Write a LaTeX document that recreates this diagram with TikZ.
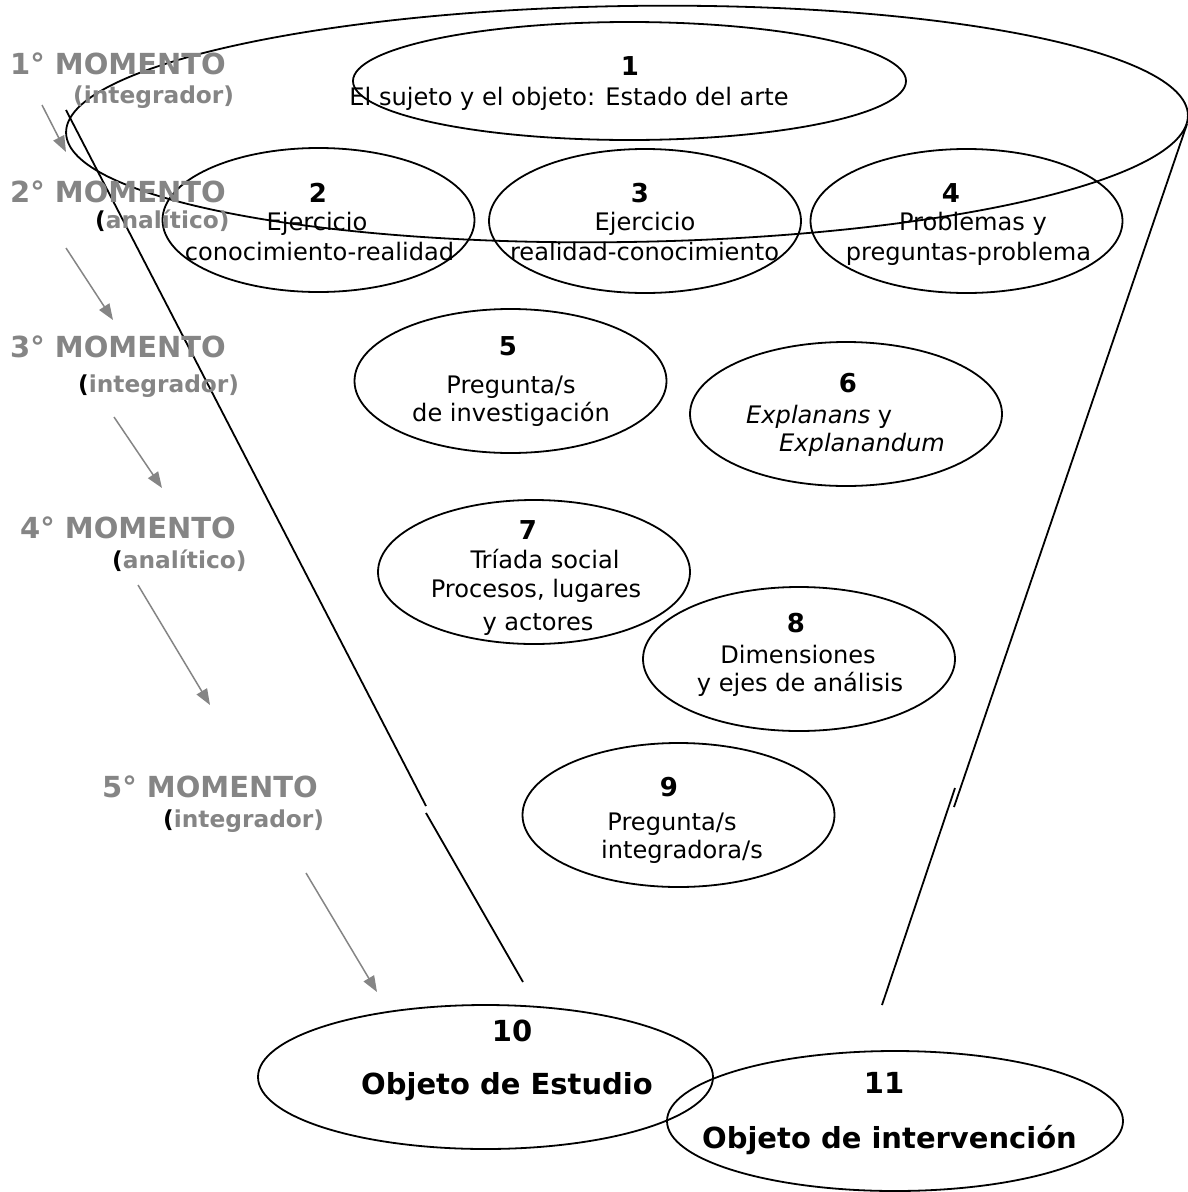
\documentclass[tikz,border=0pt]{standalone}
\usepackage{fontspec}
\setmainfont{DejaVu Sans}
\usetikzlibrary{shapes.geometric,arrows.meta}
\definecolor{momgray}{HTML}{858585}
\tikzset{
  ell/.style={draw=black, line width=1.8pt, ellipse, inner sep=0pt},
  smallell/.style={ell, minimum width=312pt, minimum height=144pt},
  body/.style={anchor=base, inner sep=0pt, font=\fontsize{24.1}{28}\selectfont},
  num/.style={anchor=base, inner sep=0pt, font=\fontsize{26}{30}\selectfont\bfseries},
  bignum/.style={anchor=base, inner sep=0pt, font=\fontsize{29}{34}\selectfont\bfseries},
  mom/.style={anchor=base west, inner sep=0pt, text=momgray, font=\fontsize{29}{34}\selectfont\bfseries},
  par/.style={anchor=base west, inner sep=0pt, text=momgray, font=\fontsize{23.3}{28}\selectfont\bfseries},
  funnelline/.style={draw=black, line width=1.8pt},
  momarrow/.style={draw=momgray, line width=1.5pt, -{Triangle[length=16pt,width=12pt]}}
}
\begin{document}
\begin{tikzpicture}[x=1pt,y=-1pt]
\useasboundingbox (0,0) rectangle (1188,1192);
% big funnel top ellipse
\node[ell, minimum width=1122pt, minimum height=236pt, rotate=0.9] (top) at (627,124) {};
% funnel sides
\coordinate (lt) at (66,110);
\coordinate (lg1) at (426,806);
\coordinate (lg2) at (426,813);
\coordinate (lb) at (523,982);
\coordinate (rt) at (1187,124);
\coordinate (rg1) at (954,807);
\coordinate (rg2) at (955,788);
\coordinate (rb) at (882,1005);
\draw[funnelline] (lt) -- (lg1);
\draw[funnelline] (lg2) -- (lb);
\draw[funnelline] (rt) -- (rg1);
\draw[funnelline] (rg2) -- (rb);
% ellipses
\node[ell, minimum width=553pt, minimum height=118pt] (e1) at (629.5,81) {};
\node[smallell] (e2) at (318.5,220) {};
\node[smallell] (e3) at (645,221) {};
\node[smallell] (e4) at (966.5,221) {};
\node[smallell] (e5) at (510.5,381) {};
\node[smallell] (e6) at (846,414) {};
\node[smallell] (e7) at (534,572) {};
\node[smallell] (e8) at (799,659) {};
\node[smallell] (e9) at (678.5,815) {};
\node[ell, minimum width=455pt, minimum height=144pt] (e10) at (485.5,1077) {};
\node[ell, minimum width=456pt, minimum height=140pt] (e11) at (895,1121) {};
% texts
\node[num] (n1) at (630,75) {1};
\node[body] (t1) at (569,105) {El sujeto y el objeto: Estado del arte};
\node[num] (n2) at (318,202) {2};
\node[body] (t2a) at (317,230) {Ejercicio};
\node[body] (t2b) at (319.5,260) {conocimiento-realidad};
\node[num] (n3) at (640,202) {3};
\node[body] (t3a) at (645,230) {Ejercicio};
\node[body] (t3b) at (644.5,260) {realidad-conocimiento};
\node[num] (n4) at (951,202) {4};
\node[body] (t4a) at (973,230) {Problemas y};
\node[body] (t4b) at (968.5,260) {preguntas-problema};
\node[num] (n5) at (508,355) {5};
\node[body] (t5a) at (511,393) {Pregunta/s};
\node[body] (t5b) at (511,421) {de investigación};
\node[num] (n6) at (848,392) {6};
\node[body, anchor=base west] (t6a) at (746,423) {\itshape Explanans\upshape{} y};
\node[body, anchor=base west] (t6b) at (779,451) {\itshape Explanandum};
\node[num] (n7) at (528,539) {7};
\node[body] (t7a) at (545,568) {Tríada social};
\node[body] (t7b) at (536,597) {Procesos, lugares};
\node[body] (t7c) at (538,630) {y actores};
\node[num] (n8) at (796,632) {8};
\node[body] (t8a) at (798,663) {Dimensiones};
\node[body] (t8b) at (800,691) {y ejes de análisis};
\node[num] (n9) at (669,796) {9};
\node[body] (t9a) at (672,830) {Pregunta/s};
\node[body] (t9b) at (682,858) {integradora/s};
\node[bignum] (n10) at (512,1041) {10};
\node[bignum] (t10) at (507,1094) {Objeto de Estudio};
\node[bignum] (n11) at (884,1093) {11};
\node[bignum] (t11) at (889.5,1148) {Objeto de intervención};
% momentos
\node[mom] (m1) at (10,74) {1° MOMENTO};
\node[par] (p1) at (73,103) {(integrador)};
\node[mom] (m2) at (10,202) {2° MOMENTO};
\node[par] (p2) at (95,228) {\textcolor{black}{(}analítico)};
\node[mom] (m3) at (10,357) {3° MOMENTO};
\node[par] (p3) at (78,392) {\textcolor{black}{(}integrador)};
\node[mom] (m4) at (20,538) {4° MOMENTO};
\node[par] (p4) at (112,568) {\textcolor{black}{(}analítico)};
\node[mom] (m5) at (102,797) {5° MOMENTO};
\node[par] (p5) at (163,827) {\textcolor{black}{(}integrador)};
% arrows
\coordinate (a1s) at (42,105); \coordinate (a1e) at (66,152);
\coordinate (a2s) at (66,248); \coordinate (a2e) at (113,320);
\coordinate (a3s) at (114,417); \coordinate (a3e) at (162,488);
\coordinate (a4s) at (138,585); \coordinate (a4e) at (210,705);
\coordinate (a5s) at (306,873); \coordinate (a5e) at (377,992);
\draw[momarrow] (a1s) -- (a1e);
\draw[momarrow] (a2s) -- (a2e);
\draw[momarrow] (a3s) -- (a3e);
\draw[momarrow] (a4s) -- (a4e);
\draw[momarrow] (a5s) -- (a5e);
\end{tikzpicture}
\end{document}
